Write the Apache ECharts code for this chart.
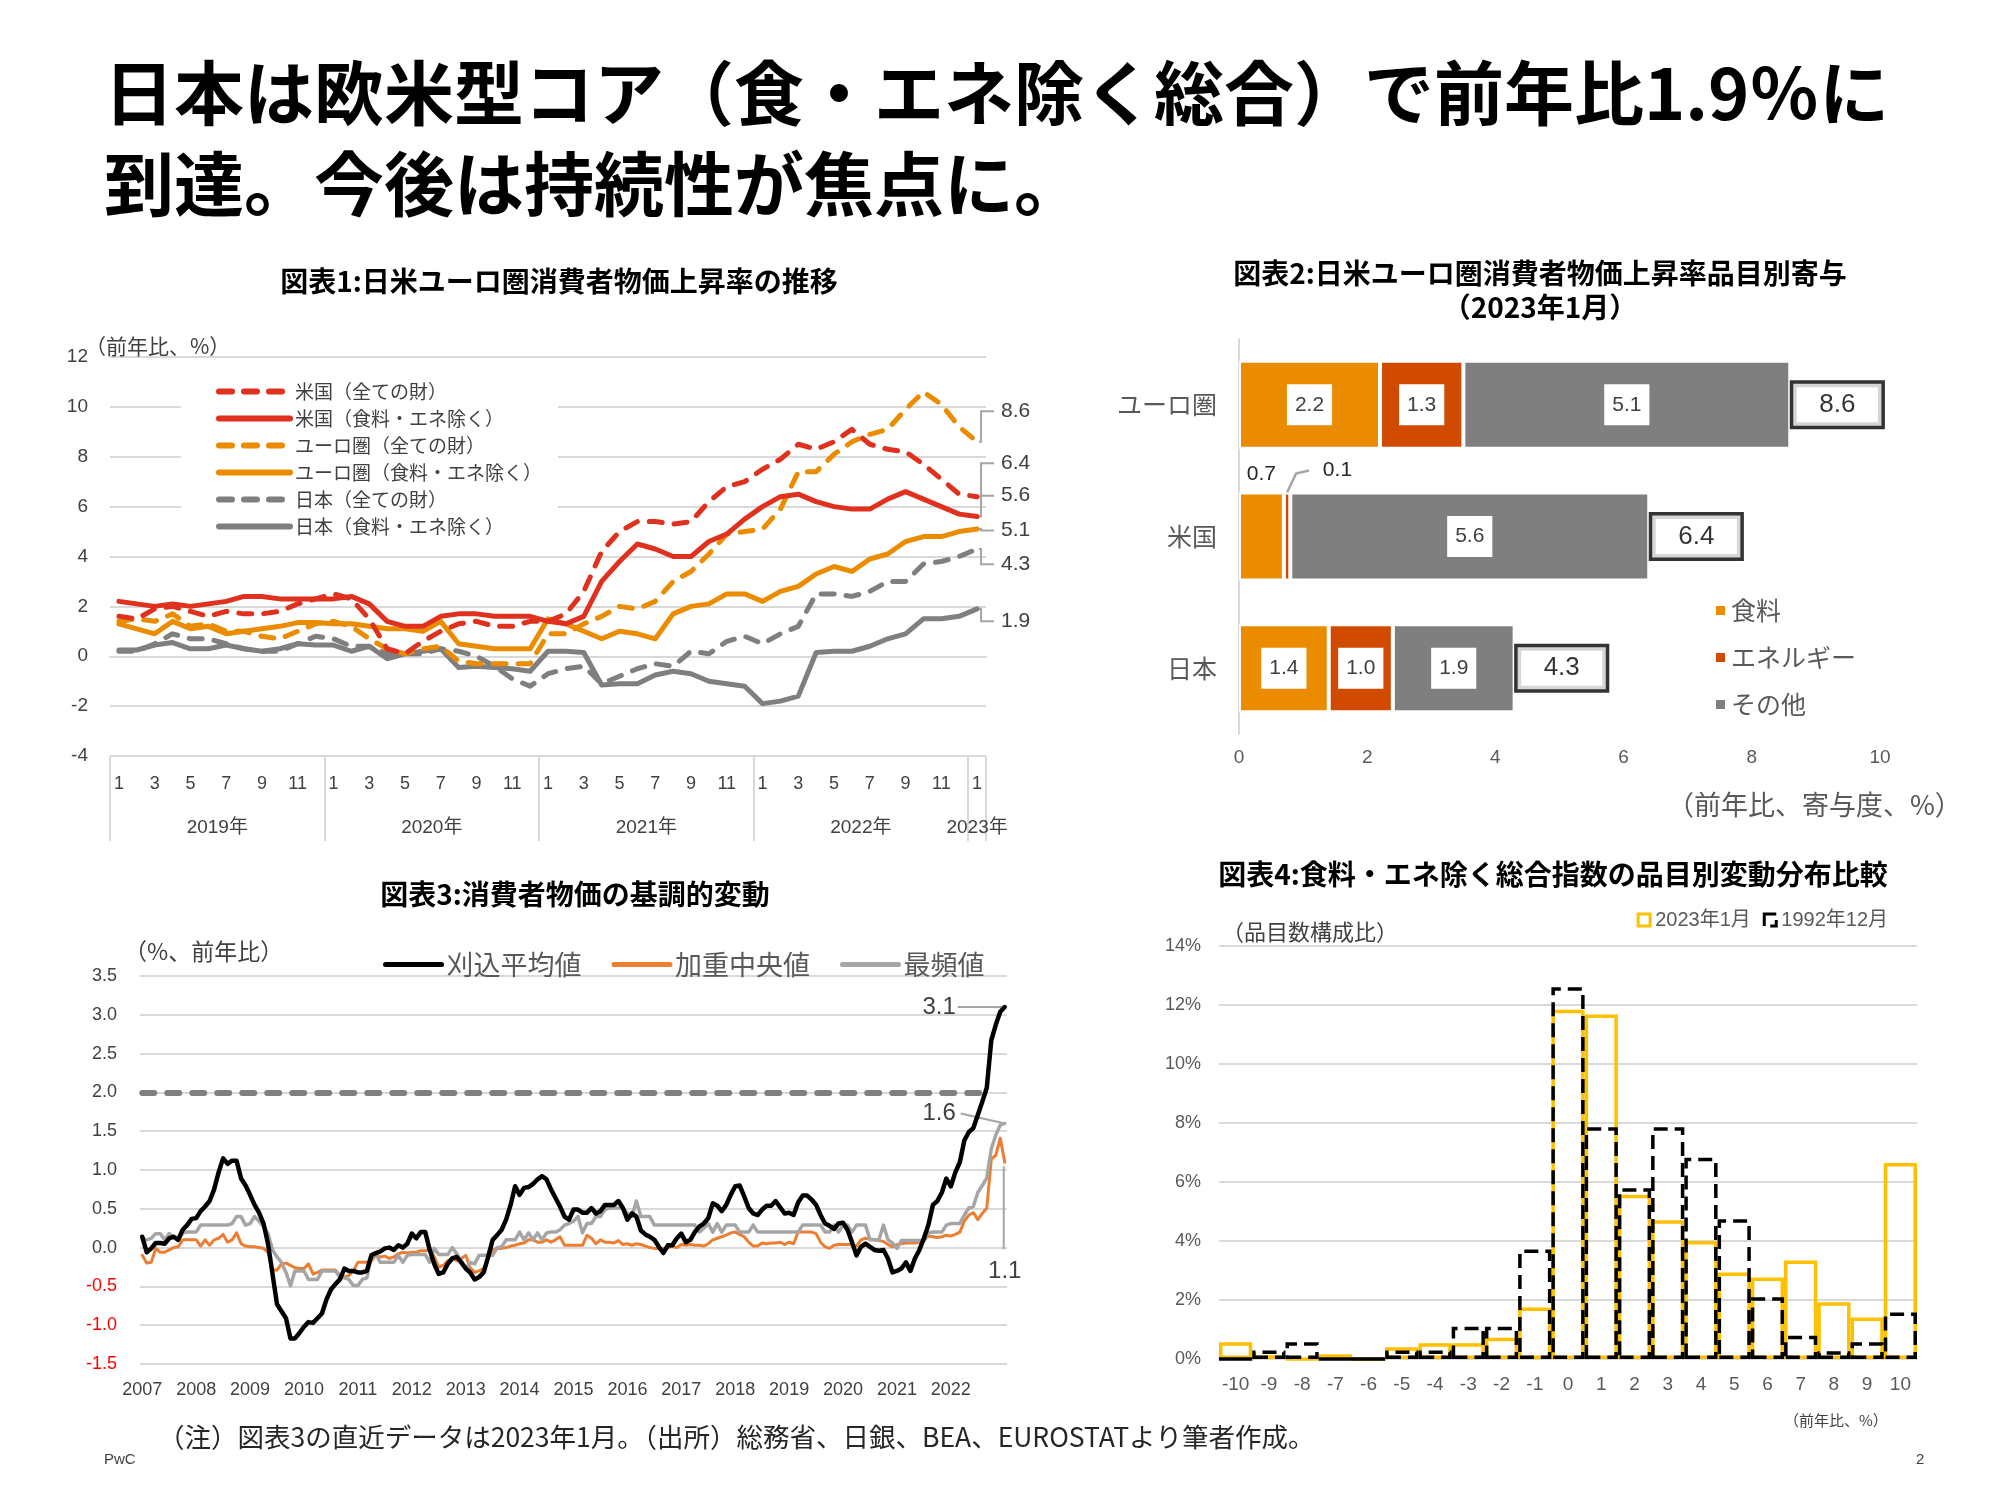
<!DOCTYPE html>
<html>
<head>
<meta charset="utf-8">
<script src="https://cdn.jsdelivr.net/npm/echarts@6/dist/echarts.min.js"></script>
<style>html,body{margin:0;background:#fff}#c{width:2000px;height:1500px}</style>
</head>
<body>
<div id="c"></div>
<script>
// ---------- data ----------
// 図表1 (2019/1 - 2023/1, 前年比 %)
const months1 = []
for (const y of [2019, 2020, 2021, 2022]) for (let m = 1; m <= 12; m++) months1.push(y + '-' + m)
months1.push('2023-1')
const yearNames1 = ['2019年', '2020年', '2021年', '2022年', '2023年']
const yearMid1 = [6, 18, 30, 42, 48.5]
const yearBounds1 = [0, 12, 24, 36, 48, 49]

const usAll = [1.6, 1.5, 1.9, 2.0, 1.8, 1.6, 1.8, 1.7, 1.7, 1.8, 2.1, 2.3,
  2.5, 2.3, 1.5, 0.3, 0.1, 0.6, 1.0, 1.3, 1.4, 1.2, 1.2, 1.4,
  1.4, 1.7, 2.6, 4.2, 5.0, 5.4, 5.4, 5.3, 5.4, 6.2, 6.8, 7.0,
  7.5, 7.9, 8.5, 8.3, 8.6, 9.1, 8.5, 8.3, 8.2, 7.7, 7.1, 6.5, 6.4]
const usCore = [2.2, 2.1, 2.0, 2.1, 2.0, 2.1, 2.2, 2.4, 2.4, 2.3, 2.3, 2.3,
  2.3, 2.4, 2.1, 1.4, 1.2, 1.2, 1.6, 1.7, 1.7, 1.6, 1.6, 1.6,
  1.4, 1.3, 1.6, 3.0, 3.8, 4.5, 4.3, 4.0, 4.0, 4.6, 4.9, 5.5,
  6.0, 6.4, 6.5, 6.2, 6.0, 5.9, 5.9, 6.3, 6.6, 6.3, 6.0, 5.7, 5.6]
const euAll = [1.4, 1.5, 1.4, 1.7, 1.2, 1.3, 1.0, 1.0, 0.8, 0.7, 1.0, 1.3,
  1.4, 1.2, 0.7, 0.3, 0.1, 0.3, 0.4, -0.2, -0.3, -0.3, -0.3, -0.3,
  0.9, 0.9, 1.3, 1.6, 2.0, 1.9, 2.2, 3.0, 3.4, 4.1, 4.9, 5.0,
  5.1, 5.9, 7.4, 7.4, 8.1, 8.6, 8.9, 9.1, 9.9, 10.6, 10.1, 9.2, 8.6]
const euCore = [1.3, 1.1, 0.9, 1.4, 1.1, 1.2, 0.9, 1.0, 1.1, 1.2, 1.35, 1.35,
  1.3, 1.3, 1.2, 1.1, 1.1, 1.0, 1.4, 0.5, 0.4, 0.3, 0.3, 0.3,
  1.5, 1.3, 1.0, 0.7, 1.0, 0.9, 0.7, 1.7, 2.0, 2.1, 2.5, 2.5,
  2.2, 2.6, 2.8, 3.3, 3.6, 3.4, 3.9, 4.1, 4.6, 4.8, 4.8, 5.0, 5.1]
const jpAll = [0.2, 0.2, 0.5, 0.9, 0.7, 0.7, 0.5, 0.3, 0.2, 0.2, 0.5, 0.8,
  0.7, 0.4, 0.4, 0.1, 0.1, 0.1, 0.3, 0.2, 0.0, -0.4, -0.9, -1.2,
  -0.7, -0.5, -0.4, -1.1, -0.8, -0.5, -0.3, -0.4, 0.2, 0.1, 0.6, 0.8,
  0.5, 0.9, 1.2, 2.5, 2.5, 2.4, 2.6, 3.0, 3.0, 3.7, 3.8, 4.0, 4.3]
const jpCore = [0.25, 0.25, 0.45, 0.55, 0.3, 0.3, 0.45, 0.3, 0.2, 0.3, 0.5, 0.45,
  0.45, 0.2, 0.4, -0.1, 0.1, 0.2, 0.3, -0.45, -0.4, -0.45, -0.5, -0.6,
  0.2, 0.2, 0.15, -1.15, -1.1, -1.1, -0.75, -0.6, -0.7, -1.0, -1.1, -1.2,
  -1.9, -1.8, -1.6, 0.15, 0.2, 0.2, 0.4, 0.7, 0.9, 1.5, 1.5, 1.6, 1.9]
// label height (y units) of each end label
const endLabelAt1 = [7.74, 6.44, 9.82, 5.04, 3.69, 1.4]

// 図表2 (2023年1月, 寄与度)
const cats2 = ['ユーロ圏', '米国', '日本']
const food2 = [2.2, 0.7, 1.4]
const energy2 = [1.3, 0.1, 1.0]
const other2 = [5.1, 5.6, 1.9]
const total2 = [8.6, 6.4, 4.3]

// 図表3 (2007/1 - 2023/1)
const months3 = []
for (let y = 2007; y <= 2022; y++) for (let m = 1; m <= 12; m++) months3.push(y + '-' + m)
months3.push('2023-1')
const trimmed = [
  0.14, -0.06, -0.01, 0.06, 0.06, 0.05, 0.12, 0.14, 0.1, 0.23, 0.29, 0.37,
  0.38, 0.47, 0.53, 0.6, 0.75, 0.97, 1.15, 1.08, 1.12, 1.12, 0.89, 0.8,
  0.68, 0.55, 0.45, 0.31, 0.05, -0.34, -0.73, -0.82, -0.91, -1.17, -1.17, -1.1,
  -1.02, -0.96, -0.97, -0.91, -0.85, -0.67, -0.54, -0.47, -0.41, -0.27, -0.3, -0.3,
  -0.32, -0.32, -0.3, -0.1, -0.07, -0.05, -0.01, 0.0, -0.03, 0.03, 0.0, 0.05,
  0.18, 0.12, 0.2, 0.2, -0.03, -0.21, -0.34, -0.32, -0.21, -0.14, -0.12, -0.19,
  -0.27, -0.32, -0.41, -0.38, -0.32, -0.12, 0.1, 0.16, 0.23, 0.36, 0.55, 0.79,
  0.68, 0.77, 0.78, 0.82, 0.88, 0.92, 0.88, 0.75, 0.64, 0.53, 0.4, 0.36,
  0.49, 0.49, 0.45, 0.45, 0.51, 0.44, 0.47, 0.55, 0.55, 0.55, 0.6, 0.51,
  0.36, 0.44, 0.4, 0.22, 0.17, 0.14, 0.1, 0.01, -0.07, 0.03, 0.03, 0.12,
  0.18, 0.07, 0.1, 0.2, 0.27, 0.31, 0.38, 0.57, 0.54, 0.47, 0.55, 0.68,
  0.79, 0.8, 0.66, 0.51, 0.44, 0.42, 0.49, 0.54, 0.54, 0.6, 0.52, 0.44,
  0.45, 0.42, 0.58, 0.67, 0.67, 0.62, 0.55, 0.42, 0.31, 0.28, 0.24, 0.31,
  0.32, 0.23, 0.07, -0.1, 0.01, 0.05, 0.01, -0.03, -0.04, -0.03, -0.14, -0.32,
  -0.3, -0.27, -0.19, -0.3, -0.14, -0.03, 0.12, 0.29, 0.55, 0.6, 0.71, 0.89,
  0.79, 0.97, 1.1, 1.38, 1.49, 1.54, 1.71, 1.88, 2.06, 2.67, 2.87, 3.04,
  3.1]
const median = [
  -0.1, -0.2, -0.19, -0.01, -0.06, -0.06, -0.03, 0.0, 0.01, 0.1, 0.1, 0.1,
  0.1, 0.02, 0.1, 0.03, 0.1, 0.12, 0.17, 0.07, 0.1, 0.19, 0.05, 0.02,
  0.01, 0.01, 0.0, -0.01, -0.06, -0.29, -0.29, -0.21, -0.2, -0.23, -0.26, -0.27,
  -0.27, -0.21, -0.34, -0.32, -0.29, -0.29, -0.29, -0.29, -0.36, -0.38, -0.36, -0.3,
  -0.19, -0.19, -0.19, -0.17, -0.1, -0.12, -0.11, -0.14, -0.12, -0.08, -0.06, -0.07,
  -0.06, -0.06, -0.04, -0.04, -0.03, -0.12, -0.25, -0.23, -0.17, -0.14, -0.17, -0.14,
  -0.1, -0.26, -0.32, -0.3, -0.27, -0.14, -0.03, -0.01, -0.01, 0.0, 0.02, 0.03,
  0.05, 0.06, 0.1, 0.1, 0.07, 0.07, 0.1, 0.07, 0.1, 0.14, 0.03, 0.03,
  0.03, 0.03, 0.03, 0.16, 0.12, 0.05, 0.1, 0.07, 0.07, 0.06, 0.09, 0.04,
  0.05, 0.03, 0.05, 0.04, 0.02, 0.0, -0.01, -0.01, -0.01, 0.0, 0.02, 0.0,
  0.04, 0.03, 0.04, 0.03, 0.03, 0.02, 0.05, 0.1, 0.12, 0.14, 0.16, 0.19,
  0.2, 0.17, 0.14, 0.07, 0.02, 0.02, 0.06, 0.05, 0.06, 0.06, 0.07, 0.04,
  0.07, 0.05, 0.2, 0.2, 0.2, 0.2, 0.18, 0.07, 0.01, -0.01, 0.03, 0.04,
  0.04, 0.04, 0.04, 0.02, 0.1, 0.12, 0.11, 0.1, 0.09, 0.08, 0.04, 0.01,
  0.04, 0.05, 0.06, 0.06, 0.06, 0.07, 0.09, 0.15, 0.14, 0.13, 0.14, 0.16,
  0.15, 0.17, 0.2, 0.34, 0.42, 0.45, 0.36, 0.44, 0.51, 1.14, 1.19, 1.41,
  1.1]
const mode = [
  0.1, 0.1, 0.12, 0.18, 0.18, 0.1, 0.18, 0.13, 0.1, 0.19, 0.2, 0.2,
  0.2, 0.29, 0.29, 0.29, 0.29, 0.29, 0.29, 0.29, 0.31, 0.4, 0.4, 0.29,
  0.31, 0.4, 0.34, 0.27, 0.18, -0.03, -0.12, -0.19, -0.32, -0.49, -0.3, -0.3,
  -0.3, -0.41, -0.41, -0.41, -0.3, -0.3, -0.3, -0.3, -0.38, -0.39, -0.41, -0.49,
  -0.49, -0.41, -0.39, -0.12, -0.08, -0.19, -0.19, -0.19, -0.19, -0.1, -0.19, -0.1,
  -0.09, -0.09, -0.09, -0.09, -0.19, -0.01, -0.09, -0.09, -0.09, 0.0, -0.08, -0.17,
  -0.27, -0.19, -0.21, -0.1, -0.1, -0.1, -0.1, 0.0, 0.01, 0.1, 0.1, 0.1,
  0.2, 0.1, 0.19, 0.1, 0.19, 0.1, 0.19, 0.2, 0.2, 0.23, 0.29, 0.31,
  0.34, 0.4, 0.19, 0.31, 0.31, 0.4, 0.4, 0.49, 0.51, 0.51, 0.51, 0.51,
  0.44, 0.4, 0.6, 0.4, 0.4, 0.4, 0.29, 0.29, 0.29, 0.29, 0.29, 0.29,
  0.29, 0.29, 0.29, 0.29, 0.2, 0.25, 0.31, 0.2, 0.31, 0.2, 0.29, 0.29,
  0.29, 0.2, 0.2, 0.2, 0.29, 0.2, 0.2, 0.2, 0.2, 0.2, 0.2, 0.2,
  0.2, 0.2, 0.2, 0.29, 0.29, 0.29, 0.29, 0.29, 0.2, 0.2, 0.29, 0.2,
  0.29, 0.29, 0.2, 0.29, 0.29, 0.29, 0.1, 0.1, 0.1, 0.29, 0.1, 0.06,
  -0.01, 0.09, 0.09, 0.09, 0.09, 0.09, 0.09, 0.19, 0.2, 0.2, 0.2, 0.29,
  0.31, 0.31, 0.31, 0.42, 0.51, 0.53, 0.71, 0.8, 0.9, 1.27, 1.45, 1.58,
  1.6]

// 図表4 (品目数構成比 %)
const bins4 = ['-10', '-9', '-8', '-7', '-6', '-5', '-4', '-3', '-2', '-1', '0', '1', '2', '3', '4', '5', '6', '7', '8', '9', '10']
const dist2023 = [0.57, 0.13, 0, 0.16, 0, 0.4, 0.53, 0.53, 0.72, 1.75, 11.84, 11.68, 5.57, 4.7, 4.0, 2.93, 2.76, 3.34, 1.92, 1.41, 6.64]
const dist1992 = [0, 0.29, 0.57, 0, 0, 0.29, 0.29, 1.09, 1.09, 3.71, 12.6, 7.86, 5.79, 7.86, 6.82, 4.74, 2.09, 0.79, 0.26, 0.57, 1.58]

// ---------- layout helpers ----------
const S = 2000 / 1545
const p = (v) => Math.round(v * S)
const FONT = "'Liberation Sans', 'Noto Sans CJK JP', sans-serif"
const JP = "'Noto Sans CJK JP', sans-serif"
const TXT = '#404040'
const SUB = '#595959'
const GRID = '#d9d9d9'
const RED = '#e0301e', ORG = '#eb8c00', GRY = '#7f7f7f'
const NOSYM = { color: 'rgba(0,0,0,0)', borderWidth: 0 }

const chart = echarts.init(document.getElementById('c'), null, { renderer: 'canvas' })

const lineS = (name, data, color, dashed, xi, yi, width) => ({
  type: 'line', name, data, xAxisIndex: xi, yAxisIndex: yi, symbol: 'none',
  lineStyle: { color, width, type: dashed ? [13, 12] : 'solid', cap: 'round', join: 'round' },
  itemStyle: { color },
})

const s1 = [
  lineS('日本（全ての財）', jpAll, GRY, true, 0, 0, 5),
  lineS('日本（食料・エネ除く）', jpCore, GRY, false, 0, 0, 5),
  lineS('ユーロ圏（全ての財）', euAll, ORG, true, 0, 0, 5),
  lineS('ユーロ圏（食料・エネ除く）', euCore, ORG, false, 0, 0, 5),
  lineS('米国（全ての財）', usAll, RED, true, 0, 0, 5),
  lineS('米国（食料・エネ除く）', usCore, RED, false, 0, 0, 5),
]
const legend1 = ['米国（全ての財）', '米国（食料・エネ除く）', 'ユーロ圏（全ての財）', 'ユーロ圏（食料・エネ除く）', '日本（全ての財）', '日本（食料・エネ除く）']
const ends1 = [[usAll, 0], [usCore, 1], [euAll, 2], [euCore, 3], [jpAll, 4], [jpCore, 5]]

const barLabel = {
  show: true, position: 'inside', formatter: (q) => q.value.toFixed(1),
  backgroundColor: '#fff', color: TXT, padding: [10, 8], fontSize: 21, fontFamily: FONT,
}
const bar2 = (name, data, color) => ({
  type: 'bar', name, stack: 'c2', xAxisIndex: 2, yAxisIndex: 1, barWidth: p(68),
  itemStyle: { color, borderColor: '#fff', borderWidth: 2 }, label: barLabel, data,
})
const smallLbl = { backgroundColor: '#fff', color: '#262626', padding: [2, 3], fontSize: 21, fontFamily: FONT, verticalAlign: 'middle' }

const option = {
  animation: false,
  backgroundColor: '#fff',
  textStyle: { fontFamily: FONT, color: TXT },
  grid: [
    { left: p(85), top: p(276), width: p(677), height: p(308) },
    { left: p(957), top: p(262), width: p(495), height: p(305) },
    { left: p(108), top: p(754), width: p(670), height: p(300) },
    { left: p(942), top: p(731), width: p(539), height: p(319) },
  ],
  legend: [
    {
      data: legend1, orient: 'vertical', left: p(140), top: p(285),
      padding: [p(10), p(12), p(10), p(27)], backgroundColor: '#fff',
      itemWidth: p(55), itemHeight: p(14), itemGap: 8,
      itemStyle: NOSYM, lineStyle: { width: 6 },
      textStyle: { fontSize: 19, color: TXT, fontFamily: JP },
    },
    {
      data: ['食料', 'エネルギー', 'その他'], orient: 'vertical', left: p(1320), top: p(458),
      icon: 'rect', itemWidth: 11, itemHeight: 11, itemGap: 22,
      textStyle: { fontSize: 25, color: SUB, fontFamily: JP },
    },
    {
      data: ['刈込平均値', '加重中央値', '最頻値'], left: p(292), top: p(731),
      itemWidth: p(43), itemHeight: p(12), itemGap: 30,
      itemStyle: NOSYM, lineStyle: { width: 5 },
      textStyle: { fontSize: 27, color: SUB, fontFamily: JP },
    },
    {
      data: [
        { name: '2023年1月', icon: 'rect', itemStyle: { color: '#fff', borderColor: '#ffc000', borderWidth: 3 } },
        { name: '1992年12月', icon: 'rect', itemStyle: { color: '#fff', borderColor: '#000', borderWidth: 3, borderType: 'dashed' } },
      ],
      right: p(83), top: p(699), itemWidth: 12, itemHeight: 12, itemGap: 12,
      textStyle: { fontSize: 20, color: SUB, fontFamily: FONT },
    },
  ],
  xAxis: [
    { // 0: chart1 months
      type: 'category', gridIndex: 0, data: months1, boundaryGap: true,
      axisLine: { lineStyle: { color: GRID, width: 2 } }, axisTick: { show: false },
      axisLabel: { interval: 0, margin: p(15), fontSize: p(14), color: TXT,
        formatter: (v) => { const m = +v.split('-')[1]; return m % 2 ? String(m) : '' } },
    },
    { // 1: chart1 year groups
      type: 'value', gridIndex: 0, min: 0, max: 49, position: 'bottom',
      axisLine: { show: false }, splitLine: { show: false },
      axisTick: { show: true, customValues: yearBounds1, length: p(66), lineStyle: { color: GRID, width: 2 } },
      axisLabel: { customValues: yearMid1, margin: p(48), fontSize: p(15), color: TXT,
        formatter: (v) => { const i = yearMid1.indexOf(v); return i >= 0 ? yearNames1[i] : '' } },
    },
    { // 2: chart2 value
      type: 'value', gridIndex: 1, min: 0, max: 10, interval: 2,
      axisLine: { show: false }, axisTick: { show: false }, splitLine: { show: false },
      axisLabel: { margin: p(11), fontSize: p(15), color: SUB },
    },
    { // 3: chart3 months
      type: 'category', gridIndex: 2, data: months3, boundaryGap: true,
      axisLine: { show: false }, axisTick: { show: false },
      axisLabel: { margin: p(13), fontSize: p(14), color: TXT,
        interval: (i) => i % 12 === 0 && i < 192, formatter: (v) => v.slice(0, 4) },
    },
    { // 4: chart4 bins
      type: 'category', gridIndex: 3, data: bins4,
      axisLine: { lineStyle: { color: GRID, width: 2 } }, axisTick: { show: false },
      axisLabel: { interval: 0, margin: p(12), fontSize: p(15), color: SUB },
    },
  ],
  yAxis: [
    { // 0: chart1
      type: 'value', gridIndex: 0, min: -4, max: 12, interval: 2,
      axisLine: { show: false }, axisTick: { show: false },
      splitLine: { lineStyle: { color: GRID, width: 2 } },
      axisLabel: { margin: p(17), fontSize: p(15), color: TXT },
    },
    { // 1: chart2 categories
      type: 'category', gridIndex: 1, data: cats2, inverse: true,
      axisLine: { lineStyle: { color: GRID, width: 2 } }, axisTick: { show: false },
      axisLabel: { margin: p(17), fontSize: 25, color: SUB, fontFamily: JP },
    },
    { // 2: chart3
      type: 'value', gridIndex: 2, min: -1.5, max: 3.5, interval: 0.5,
      axisLine: { show: false }, axisTick: { show: false },
      splitLine: { lineStyle: { color: GRID, width: 2 } },
      axisLabel: { margin: p(18), fontSize: p(14), formatter: (v) => v.toFixed(1),
        color: (v) => (Number(v) < 0 ? '#ff0000' : TXT) },
    },
    { // 3: chart4
      type: 'value', gridIndex: 3, min: 0, max: 14, interval: 2,
      axisLine: { show: false }, axisTick: { show: false },
      splitLine: { lineStyle: { color: GRID, width: 2 } },
      axisLabel: { margin: p(14), fontSize: p(14), color: SUB, formatter: '{value}%' },
    },
  ],
  series: [
    ...s1,
    bar2('食料', food2.map((v, i) => i === 1
      ? { value: v, label: { ...smallLbl, position: ['50%', -p(14)], align: 'center' } }
      : v), '#eb8c00'),
    bar2('エネルギー', energy2.map((v, i) => i === 1
      ? { value: v, label: { ...smallLbl, position: [p(28), -p(17)], align: 'left' } }
      : v), '#d04a02'),
    bar2('その他', other2, GRY),
    {
      type: 'scatter', name: '合計', xAxisIndex: 2, yAxisIndex: 1, symbolSize: 0,
      data: total2.map((v, i) => [v, cats2[i]]),
      label: { show: true, position: 'right', distance: 3, formatter: (q) => q.value[0].toFixed(1),
        backgroundColor: '#fff', borderColor: '#000', borderWidth: 3.5, padding: [8, 26],
        fontSize: p(20), color: '#000', fontFamily: FONT },
    },
    {
      ...lineS('刈込平均値', trimmed, '#000', false, 3, 2, 4.5), z: 4,
    },
    {
      ...lineS('加重中央値', median, '#ed7d31', false, 3, 2, 3), z: 3,
      markLine: { symbol: 'none', silent: true, label: { show: false }, z: 2,
        lineStyle: { color: GRY, width: 6, type: [12, 13], cap: 'round' },
        data: [[{ xAxis: 0, yAxis: 2 }, { xAxis: 189, yAxis: 2 }]] },
    },
    { ...lineS('最頻値', mode, '#a5a5a5', false, 3, 2, 3.5), z: 3 },
    {
      type: 'bar', name: '2023年1月', xAxisIndex: 4, yAxisIndex: 3, data: dist2023,
      barCategoryGap: '0%', barGap: '-100%',
      itemStyle: { color: 'rgba(255,255,255,0)', borderColor: '#ffc000', borderWidth: 3.5 },
    },
    {
      type: 'bar', name: '1992年12月', xAxisIndex: 4, yAxisIndex: 3, data: dist1992,
      barCategoryGap: '0%', barGap: '-100%',
      itemStyle: { color: 'rgba(255,255,255,0)', borderColor: '#000', borderWidth: 3.5, borderType: [14, 7] },
    },
  ],
}
chart.setOption(option)

// ---------- texts and leader lines ----------
const txt = (x, y, text, o = {}) => ({
  type: 'text', x, y, silent: true,
  style: { text, fontFamily: FONT, fontSize: 19, fill: TXT, verticalAlign: 'middle', ...o },
})
const poly = (points, stroke = '#a5a5a5', w = 2) => ({
  type: 'polyline', silent: true, shape: { points }, style: { stroke, lineWidth: w, fill: null },
})
const HEAD = { fontFamily: JP, fontSize: 70, fontWeight: 'bold', fill: '#000' }
const CT = { fontFamily: JP, fontSize: 28, fontWeight: 'bold', fill: '#000', align: 'center' }
const gfx = [
  txt(p(80), p(72), '日本は欧米型コア（食・エネ除く総合）で前年比1.9％に', HEAD),
  txt(p(80), p(142), '到達。今後は持続性が焦点に。', HEAD),
  txt(p(432), p(217), '図表1:日米ユーロ圏消費者物価上昇率の推移', CT),
  txt(p(1190), p(211), '図表2:日米ユーロ圏消費者物価上昇率品目別寄与', CT),
  txt(p(1190), p(237), '（2023年1月）', CT),
  txt(p(444), p(691), '図表3:消費者物価の基調的変動', CT),
  txt(p(1200), p(675), '図表4:食料・エネ除く総合指数の品目別変動分布比較', CT),
  txt(p(66), p(267), '（前年比、%）', { fontFamily: JP, fontSize: 21 }),
  txt(p(1288), p(622), '（前年比、寄与度、%）', { fontFamily: JP, fontSize: 27, fill: SUB }),
  txt(p(96), p(735), '（%、前年比）', { fontFamily: JP, fontSize: 23 }),
  txt(p(944), p(720), '（品目数構成比）', { fontFamily: JP, fontSize: 22 }),
  txt(p(1378), p(1097), '（前年比、%）', { fontFamily: JP, fontSize: 15 }),
  txt(p(122), p(1110), '（注）図表3の直近データは2023年1月。（出所）総務省、日銀、BEA、EUROSTATより筆者作成。', { fontFamily: JP, fontSize: 26.5, fill: '#262626' }),
  txt(p(80), p(1128), 'PwC', { fontSize: 15 }),
  txt(p(1480), p(1128), '2', { fontSize: 15 }),
]

// chart1 end labels
const f1 = { xAxisIndex: 0, yAxisIndex: 0 }
ends1.forEach(([arr, k]) => {
  const last = arr[arr.length - 1]
  const [px, py] = chart.convertToPixel(f1, [48, last])
  const ly = chart.convertToPixel(f1, [48, endLabelAt1[k]])[1]
  gfx.push(poly([[px + 2, py], [px + 4, py], [px + 4, ly], [px + 17, ly]]))
  gfx.push(txt(px + 24, ly, last.toFixed(1), { fontSize: 21 }))
})

// chart2 leader for 0.1
{
  const f2 = { xAxisIndex: 2, yAxisIndex: 1 }
  const [x0, cy] = chart.convertToPixel(f2, [food2[1] + energy2[1] / 2, 1])
  const top = cy - p(68) / 2
  gfx.push(poly([[x0, top], [x0 + p(7), top - p(15)], [x0 + p(17), top - p(17)]], '#a5a5a5', 2.5))
}

// chart3 end labels
{
  const f3 = { xAxisIndex: 3, yAxisIndex: 2 }
  const n = trimmed.length - 1
  const [ax, ay] = chart.convertToPixel(f3, [n, trimmed[n]])
  gfx.push(poly([[ax, ay], [ax - p(36), ay]]))
  gfx.push(txt(ax - p(38), ay, trimmed[n].toFixed(1), { fontSize: 24, align: 'right' }))
  const [bx, by] = chart.convertToPixel(f3, [n, mode[n]])
  gfx.push(poly([[bx, by], [bx - p(34), by - p(8)]]))
  gfx.push(txt(bx - p(38), by - p(8), mode[n].toFixed(1), { fontSize: 24, align: 'right' }))
  const [cx, cy] = chart.convertToPixel(f3, [n, median[n]])
  gfx.push(poly([[cx - 1, cy + 4], [cx - 1, cy + p(67)]]))
  gfx.push(txt(cx, cy + p(84), median[n].toFixed(1), { fontSize: 24, align: 'center' }))
}

chart.setOption({ graphic: gfx })
</script>
</body>
</html>
